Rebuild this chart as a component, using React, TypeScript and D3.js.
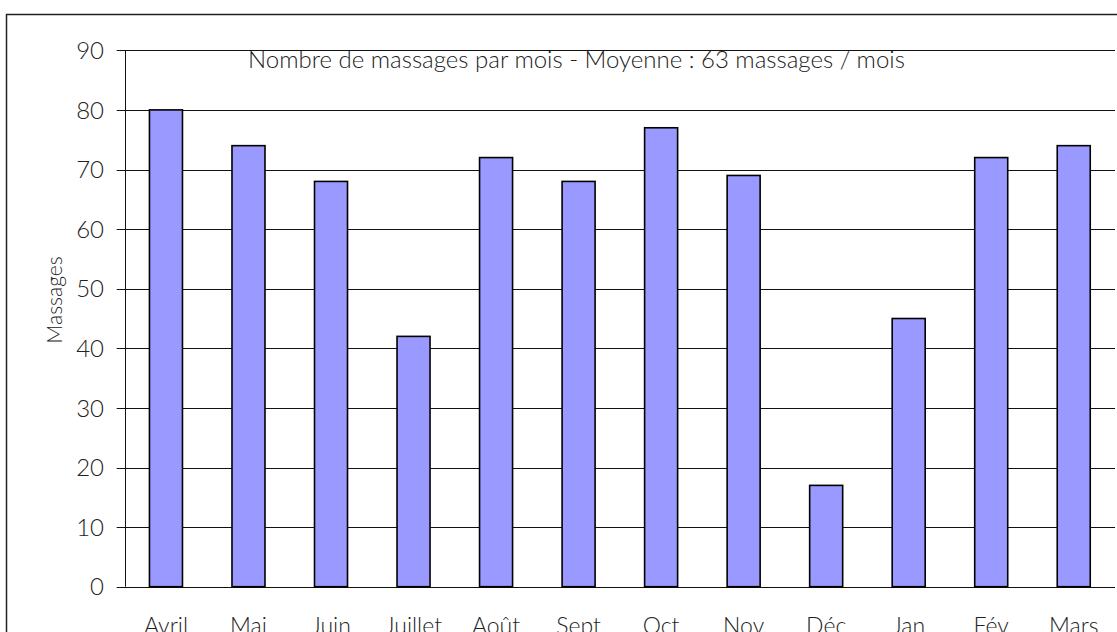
import { useEffect, useRef } from "react";
import * as d3 from "d3";

const months = ["Avril", "Mai", "Juin", "Juillet", "Août", "Sept", "Oct", "Nov", "Déc", "Jan", "Fév", "Mars"];
const massages = [80, 74, 68, 42, 72, 68, 77, 69, 17, 45, 72, 74];
const yTicks = [0, 10, 20, 30, 40, 50, 60, 70, 80, 90];
const title = "Nombre de massages par mois - Moyenne : 63 massages / mois";

const FONT = "'Lato', 'Open Sans', sans-serif";

function MassageChart() {
  const svgRef = useRef<SVGSVGElement>(null);

  useEffect(() => {
    const svg = d3.select(svgRef.current);
    svg.selectAll("*").remove();

    const left = 124.7;
    const right = 1115;
    const top = 50.3;
    const bottom = 586.7;

    // outer frame (runs off the right and bottom edges)
    svg.append("rect")
      .attr("x", 6.5).attr("y", 14.5)
      .attr("width", 1130).attr("height", 640)
      .attr("fill", "white").attr("stroke", "#222").attr("stroke-width", 1.5);

    const x = d3.scaleBand().domain(months).range([left, right]).padding(0);
    const y = d3.scaleLinear().domain([0, 90]).range([bottom, top]);

    // gridlines
    svg.append("g")
      .selectAll("line")
      .data(yTicks)
      .join("line")
      .attr("x1", left - 8).attr("x2", right)
      .attr("y1", d => Math.round(y(d)) + 0.5).attr("y2", d => Math.round(y(d)) + 0.5)
      .attr("stroke", "#111").attr("stroke-width", 1);

    // y axis line
    svg.append("line")
      .attr("x1", Math.round(left) + 0.5).attr("x2", Math.round(left) + 0.5)
      .attr("y1", y(90)).attr("y2", y(0))
      .attr("stroke", "#111");

    // y tick labels
    svg.append("g")
      .selectAll("text")
      .data(yTicks)
      .join("text")
      .attr("x", 104).attr("y", d => y(d))
      .attr("dy", "0.36em")
      .attr("text-anchor", "end")
      .attr("font-family", FONT).attr("font-weight", 300)
      .attr("font-size", 24).attr("fill", "#222")
      .text(d => d);

    // bars
    const barW = x.bandwidth() * 0.4;
    svg.append("g")
      .selectAll("rect")
      .data(massages)
      .join("rect")
      .attr("x", (d, i) => (x(months[i]) ?? 0) + (x.bandwidth() - barW) / 2)
      .attr("y", d => y(d))
      .attr("width", barW)
      .attr("height", d => y(0) - y(d))
      .attr("fill", "#9999FF")
      .attr("stroke", "#000").attr("stroke-width", 1.6);

    // month labels (cut by the bottom edge, as in the original)
    svg.append("g")
      .selectAll("text")
      .data(months)
      .join("text")
      .attr("x", d => (x(d) ?? 0) + x.bandwidth() / 2)
      .attr("y", 634)
      .attr("text-anchor", "middle")
      .attr("font-family", FONT).attr("font-weight", 300)
      .attr("font-size", 23).attr("fill", "#222")
      .text(d => d);

    // y axis title
    svg.append("text")
      .attr("transform", "translate(62,300) rotate(-90)")
      .attr("text-anchor", "middle")
      .attr("font-family", FONT).attr("font-weight", 300)
      .attr("font-size", 21).attr("fill", "#222")
      .text("Massages");

    // chart title
    svg.append("text")
      .attr("x", 248).attr("y", 68)
      .attr("font-family", FONT).attr("font-weight", 300)
      .attr("font-size", 24).attr("fill", "#222")
      .text(title);
  }, []);

  return (
    <svg
      ref={svgRef}
      width={1117}
      height={632}
      style={{ position: "absolute", left: 0, top: 0, background: "white" }}
    />
  );
}

export default function App() {
  return <MassageChart />;
}
